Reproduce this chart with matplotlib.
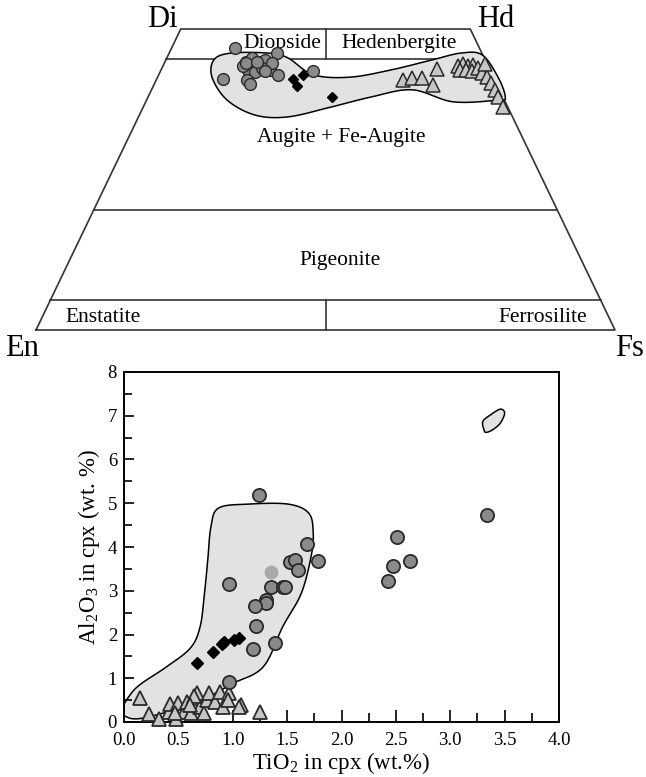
import numpy as np
import matplotlib
matplotlib.use('Agg')
import matplotlib.pyplot as plt
from matplotlib.patches import Polygon
from matplotlib.ticker import MultipleLocator, FormatStrFormatter

plt.rcParams['font.family'] = ['Liberation Serif', 'DejaVu Serif']
plt.rcParams['mathtext.fontset'] = 'stix'

# ---- pyroxene quadrilateral data (mol%: Wo, Fs) ----
quad_circ_wo = [46.8, 46.0, 41.7, 44.5, 45.2, 44.5, 44.9, 43.2, 42.9, 43.5, 43.2,
                41.5, 40.9, 42.4, 43.0, 43.9, 44.4, 44.3, 44.6, 43.0]
quad_circ_fs = [11.0, 18.6, 11.4, 14.0, 14.7, 16.1, 17.1, 15.0, 16.4, 17.3, 18.8,
                15.7, 16.5, 20.6, 26.3, 13.8, 18.6, 14.2, 15.8, 18.0]

quad_diam_wo = [42.4, 41.7, 40.5, 38.7]
quad_diam_fs = [24.9, 23.5, 24.8, 31.8]

quad_tri_wo = [41.5, 41.9, 41.9, 43.4, 40.7, 43.9, 44.2, 43.9, 44.0, 43.2, 43.2,
               43.0, 43.5, 42.7, 42.0, 41.0, 39.9, 38.7, 37.0, 44.2]
quad_tri_fs = [42.6, 44.0, 45.7, 47.6, 48.2, 50.9, 51.6, 52.6, 53.5, 51.6, 52.7,
               53.8, 54.6, 55.7, 56.9, 58.1, 59.3, 60.5, 62.2, 55.4]

# outline of the shaded field in the quadrilateral
quad_env_wo = [42.0, 44.9, 46.0, 46.0, 45.2, 42.4, 42.0, 43.2, 44.9, 46.0, 45.7,
               42.0, 38.7, 38.2, 37.9, 39.9, 38.7, 37.0, 35.4, 35.7, 38.2]
quad_env_fs = [9.4, 8.3, 10.7, 17.1, 20.9, 26.7, 33.2, 39.7, 46.1, 50.4, 54.2,
               58.8, 61.7, 60.7, 53.1, 45.0, 38.5, 32.3, 25.8, 20.0, 13.9]

field_wo = [45, 20, 5]

# ---- TiO2 vs Al2O3 data (wt.%) ----
circ_tio2 = [1.24, 3.34, 2.51, 2.47, 2.63, 2.43, 1.68, 1.78, 1.53, 1.57, 1.60,
             1.35, 1.46, 1.48, 0.97, 1.31, 1.31, 1.20, 1.21, 1.19, 1.39, 0.97]
circ_al2o3 = [5.19, 4.73, 4.22, 3.56, 3.69, 3.22, 4.08, 3.69, 3.66, 3.70, 3.47,
              3.08, 3.09, 3.08, 3.15, 2.80, 2.71, 2.65, 2.19, 1.68, 1.81, 0.92]

light_tio2 = [1.35]
light_al2o3 = [3.42]

diam_tio2 = [0.67, 0.82, 0.90, 0.92, 1.01, 1.06]
diam_al2o3 = [1.34, 1.60, 1.78, 1.82, 1.87, 1.92]

tri_tio2 = [0.15, 0.23, 0.32, 0.41, 0.42, 0.48, 0.50, 0.55, 0.58, 0.62, 0.67,
            0.67, 0.70, 0.74, 0.76, 0.78, 0.84, 0.88, 0.91, 0.97, 1.08, 1.06,
            1.25, 0.96, 0.47, 0.64, 0.61]
tri_al2o3 = [0.56, 0.18, 0.08, 0.24, 0.41, 0.08, 0.43, 0.24, 0.46, 0.20, 0.54,
             0.66, 0.35, 0.20, 0.50, 0.66, 0.46, 0.69, 0.35, 0.67, 0.39, 0.35,
             0.24, 0.50, 0.20, 0.59, 0.39]

env_tio2 = [-0.02, 0.05, 0.15, 0.39, 0.61, 0.70, 0.74, 0.77, 0.80, 0.87, 1.14,
            1.51, 1.70, 1.74, 1.72, 1.63, 1.46, 1.28, 1.00, 0.76, 0.45, 0.15, 0.02]
env_al2o3 = [0.28, 0.60, 0.86, 1.26, 1.69, 2.18, 2.94, 3.70, 4.47, 4.89, 4.98,
             4.98, 4.77, 4.31, 3.78, 2.94, 2.18, 1.26, 0.88, 0.56, 0.27, 0.08, 0.12]

leaf_tio2 = [3.31, 3.30, 3.37, 3.46, 3.50, 3.46, 3.39, 3.33]
leaf_al2o3 = [6.68, 6.87, 7.02, 7.15, 7.06, 6.83, 6.68, 6.62]

CIRC_FC = '#8a8a8a'
TRI_FC = '#c6c6c6'
EDGE = '#2a2a2a'
FIELD = '#e2e2e2'


def quad_xy(wo, fs):
    wo = np.asarray(wo, float)
    fs = np.asarray(fs, float)
    return fs + wo / 2.0, wo


def closed_spline(x, y, n=20):
    # Catmull-Rom through the outline points
    p = np.column_stack([x, y])
    m = len(p)
    t = np.linspace(0, 1, n, endpoint=False)[:, None]
    out = []
    for i in range(m):
        p0, p1, p2, p3 = p[i - 1], p[i], p[(i + 1) % m], p[(i + 2) % m]
        out.append(0.5 * (2 * p1 + (-p0 + p2) * t
                          + (2 * p0 - 5 * p1 + 4 * p2 - p3) * t ** 2
                          + (-p0 + 3 * p1 - 3 * p2 + p3) * t ** 3))
    return np.vstack(out)


fig = plt.figure(figsize=(6.46, 7.77), dpi=100)

# ---------------- quadrilateral ----------------
ax = fig.add_axes([0, 1 - 370 / 777, 1, 370 / 777])
ax.set_xlim(-36 / 5.79, 610 / 5.79)
ax.set_ylim((330 - 370) / 6.02, 330 / 6.02)
ax.axis('off')

lc = '#333333'
ax.plot([0, 100, 75, 25, 0], [0, 0, 50, 50, 0], color=lc, lw=1.2, zorder=2)
for w in field_wo:
    ax.plot([w / 2, 100 - w / 2], [w, w], color=lc, lw=1.2, zorder=2)
ax.plot([50, 50], [45, 50], color=lc, lw=1.2, zorder=2)
ax.plot([50, 50], [0, 5], color=lc, lw=1.2, zorder=2)

ex, ey = quad_xy(quad_env_wo, quad_env_fs)
ax.add_patch(Polygon(closed_spline(ex, ey), closed=True, facecolor=FIELD,
                     edgecolor='black', lw=1.1, zorder=3))

fs_lbl = 15.5
ax.text(42.5, 47.6, 'Diopside', ha='center', va='center', fontsize=fs_lbl, zorder=1)
ax.text(62.7, 47.6, 'Hedenbergite', ha='center', va='center', fontsize=fs_lbl, zorder=1)
ax.text(52.8, 31.9, 'Augite + Fe-Augite', ha='center', va='center', fontsize=fs_lbl)
ax.text(52.5, 11.6, 'Pigeonite', ha='center', va='center', fontsize=fs_lbl)
ax.text(11.6, 2.1, 'Enstatite', ha='center', va='center', fontsize=fs_lbl)
ax.text(87.6, 2.1, 'Ferrosilite', ha='center', va='center', fontsize=fs_lbl)

fs_end = 22
ax.text(24.4, 50.4, 'Di', ha='right', va='baseline', fontsize=fs_end)
ax.text(76.2, 50.4, 'Hd', ha='left', va='baseline', fontsize=fs_end)
ax.text(-5.3, -4.3, 'En', ha='left', va='baseline', fontsize=fs_end)
ax.text(100.0, -4.3, 'Fs', ha='left', va='baseline', fontsize=fs_end)

x, y = quad_xy(quad_circ_wo, quad_circ_fs)
ax.plot(x, y, 'o', ms=8.5, mfc=CIRC_FC, mec=EDGE, mew=1.0, ls='none', zorder=5)
x, y = quad_xy(quad_tri_wo, quad_tri_fs)
ax.plot(x, y, '^', ms=9.5, mfc=TRI_FC, mec=EDGE, mew=1.1, ls='none', zorder=5)
x, y = quad_xy(quad_diam_wo, quad_diam_fs)
ax.plot(x, y, 'D', ms=5, mfc='black', mec='black', ls='none', zorder=6)

# ---------------- TiO2 vs Al2O3 ----------------
ax2 = fig.add_axes([124 / 646, 1 - 722 / 777, 435 / 646, 350 / 777])
ax2.set_xlim(0, 4)
ax2.set_ylim(0, 8)

ax2.add_patch(Polygon(closed_spline(env_tio2, env_al2o3), closed=True,
                      facecolor=FIELD, edgecolor='black', lw=1.1, zorder=1))
ax2.add_patch(Polygon(closed_spline(leaf_tio2, leaf_al2o3), closed=True,
                      facecolor=FIELD, edgecolor='black', lw=1.1, zorder=1))

ax2.plot(tri_tio2, tri_al2o3, '^', ms=10.5, mfc=TRI_FC, mec=EDGE, mew=1.3,
         ls='none', zorder=3, clip_on=False)
ax2.plot(diam_tio2, diam_al2o3, 'D', ms=6, mfc='black', mec='black',
         ls='none', zorder=4)
ax2.plot(circ_tio2, circ_al2o3, 'o', ms=9.5, mfc=CIRC_FC, mec=EDGE, mew=1.3,
         ls='none', zorder=5)
ax2.plot(light_tio2, light_al2o3, 'o', ms=9, mfc='#a9a9a9', mec='#a9a9a9',
         ls='none', zorder=5)

for s in ax2.spines.values():
    s.set_linewidth(1.4)
ax2.xaxis.set_major_locator(MultipleLocator(0.5))
ax2.xaxis.set_minor_locator(MultipleLocator(0.25))
ax2.yaxis.set_major_locator(MultipleLocator(1))
ax2.yaxis.set_minor_locator(MultipleLocator(0.5))
ax2.xaxis.set_major_formatter(FormatStrFormatter('%.1f'))
ax2.tick_params(which='both', direction='in', top=False, right=False, width=1.2,
                labelsize=13.5)
ax2.tick_params(axis='x', which='major', length=9, pad=7)
ax2.tick_params(axis='x', which='minor', length=6.5)
ax2.tick_params(axis='y', which='major', length=7.5, pad=5)
ax2.tick_params(axis='y', which='minor', length=5.5)

ax2.set_xlabel(r'TiO$_\mathregular{2}$ in cpx (wt.%)', fontsize=16.5, labelpad=1)
ax2.set_ylabel(r'Al$_\mathregular{2}$O$_\mathregular{3}$ in cpx (wt. %)',
               fontsize=16.5, labelpad=4)

fig.savefig('out.png', dpi=100)
